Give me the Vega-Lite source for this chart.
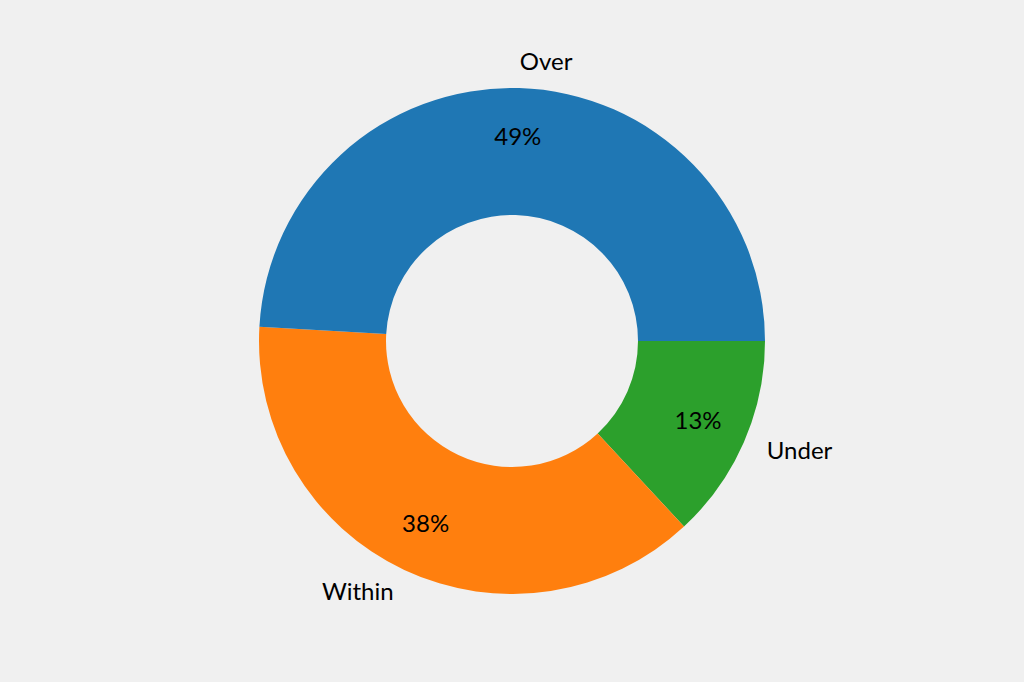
{
  "$schema": "https://vega.github.io/schema/vega-lite/v6.json",
  "width": 1024,
  "height": 682,
  "autosize": {"type": "fit", "contains": "padding"},
  "background": "#f0f0f0",
  "padding": 0,
  "config": {"view": {"stroke": null}},
  "data": {
    "values": [
      {"label": "Under", "value": 13.1, "pct": "13%", "ord": 1},
      {"label": "Within", "value": 37.8, "pct": "38%", "ord": 2},
      {"label": "Over", "value": 49.1, "pct": "49%", "ord": 3}
    ]
  },
  "encoding": {
    "theta": {"field": "value", "type": "quantitative", "stack": true, "scale": {"range": [1.5708, 7.85398]}},
    "order": {"field": "ord", "type": "quantitative"},
    "color": {
      "field": "label",
      "type": "nominal",
      "scale": {"domain": ["Over", "Within", "Under"], "range": ["#1f77b4", "#ff7f0e", "#2ca02c"]},
      "legend": null
    }
  },
  "layer": [
    {"mark": {"type": "arc", "outerRadius": 253, "innerRadius": 126}},
    {
      "mark": {"type": "text", "radius": 203, "font": "Lato", "fontSize": 24, "color": "black", "baseline": "middle", "align": "center"},
      "encoding": {"text": {"field": "pct"}, "color": {"value": "black"}}
    },
    {
      "mark": {
        "type": "text", "radius": 278, "font": "Lato", "fontSize": 24, "baseline": "middle",
        "align": {"expr": "datum.label == 'Within' ? 'right' : 'left'"}
      },
      "encoding": {"text": {"field": "label"}, "color": {"value": "black"}}
    }
  ]
}
